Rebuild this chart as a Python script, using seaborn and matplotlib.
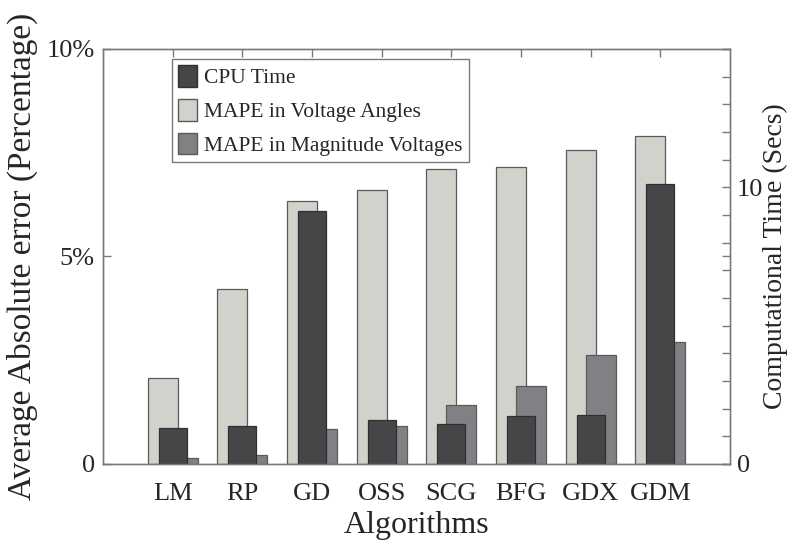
import numpy as np
import pandas as pd
import matplotlib
matplotlib.use("Agg")
import matplotlib.pyplot as plt
import seaborn as sns
from matplotlib.patches import Patch
from matplotlib.ticker import MultipleLocator

# Training algorithms compared
algorithms = ["LM", "RP", "GD", "OSS", "SCG", "BFG", "GDX", "GDM"]

# Mean absolute percentage error (%)
mape_angles = [2.06, 4.21, 6.33, 6.59, 7.10, 7.15, 7.57, 7.90]
mape_magnitude = [0.15, 0.22, 0.85, 0.92, 1.41, 1.88, 2.63, 2.94]

# CPU time (seconds)
cpu_time = [1.31, 1.37, 9.14, 1.58, 1.43, 1.74, 1.78, 10.12]

sns.set_theme(style="white")
plt.rcParams["font.family"] = ["Liberation Serif", "DejaVu Serif"]

c_cpu = "#454648"
c_ang = "#d3d1cb"
c_mag = "#808185"
c_edge = "#5a5a5a"
c_axis = "#7a7a7a"

pos = np.arange(1, len(algorithms) + 1)
df = pd.DataFrame({
    "pos": pos,
    "angles": mape_angles,
    "magnitude": mape_magnitude,
    "cpu": cpu_time,
})
df["pos_ang"] = df["pos"] - 0.143
df["pos_mag"] = df["pos"] + 0.143

fig = plt.figure(figsize=(7.94, 5.46), dpi=100)
ax = fig.add_axes([0.1297, 0.1502, 0.7897, 0.7601])

sns.barplot(data=df, x="pos_ang", y="angles", native_scale=True, width=0.43,
            color=c_ang, edgecolor=c_edge, linewidth=0.9, saturation=1, ax=ax)
sns.barplot(data=df, x="pos_mag", y="magnitude", native_scale=True, width=0.43,
            color=c_mag, edgecolor=c_edge, linewidth=0.9, saturation=1, ax=ax)

ax2 = ax.twinx()
sns.barplot(data=df, x="pos", y="cpu", native_scale=True, width=0.40,
            color=c_cpu, edgecolor="#303030", linewidth=0.9, saturation=1, ax=ax2)

ax.set_xlim(0, 9)
ax.set_ylim(0, 10)
ax2.set_ylim(0, 15)
ax.set_xticks(pos)
ax.set_xticklabels(algorithms)
ax.set_yticks([0, 5, 10])
ax.set_yticklabels(["0", "5%", "10%"])
ax2.set_yticks([0, 10])
ax2.set_yticklabels(["0", "10"])
ax2.yaxis.set_minor_locator(MultipleLocator(1))

for a in (ax, ax2):
    for s in a.spines.values():
        s.set_color(c_axis)
        s.set_linewidth(1.0)

ax.tick_params(axis="both", which="both", direction="in", length=6, width=1.0,
               color=c_axis, labelsize=19, top=True, right=True, labelright=False,
               pad=6)
ax.tick_params(axis="x", pad=14)
ax2.tick_params(axis="y", which="both", direction="in", length=6, width=1.0,
                color=c_axis, labelsize=19, pad=5)
ax2.tick_params(axis="x", which="both", top=False, bottom=False)

ax.set_xlabel("Algorithms", fontsize=23, labelpad=4)
ax.set_ylabel("Average Absolute error (Percentage)", fontsize=24, labelpad=6)
ax2.set_ylabel("Computational Time (Secs)", fontsize=20, labelpad=0)

handles = [
    Patch(facecolor=c_cpu, edgecolor="#303030", label="CPU Time"),
    Patch(facecolor=c_ang, edgecolor=c_edge, label="MAPE in Voltage Angles"),
    Patch(facecolor=c_mag, edgecolor=c_edge, label="MAPE in Magnitude Voltages"),
]
leg = ax2.legend(handles=handles, loc="upper left", bbox_to_anchor=(0.110, 0.976),
                 fontsize=15.5, frameon=True, fancybox=False, framealpha=1,
                 edgecolor=c_axis, handlelength=0.85, handleheight=1.15,
                 handletextpad=0.35, labelspacing=0.5, borderpad=0.3,
                 borderaxespad=0)
leg.get_frame().set_linewidth(1.0)

fig.savefig("out.png", dpi=100)
